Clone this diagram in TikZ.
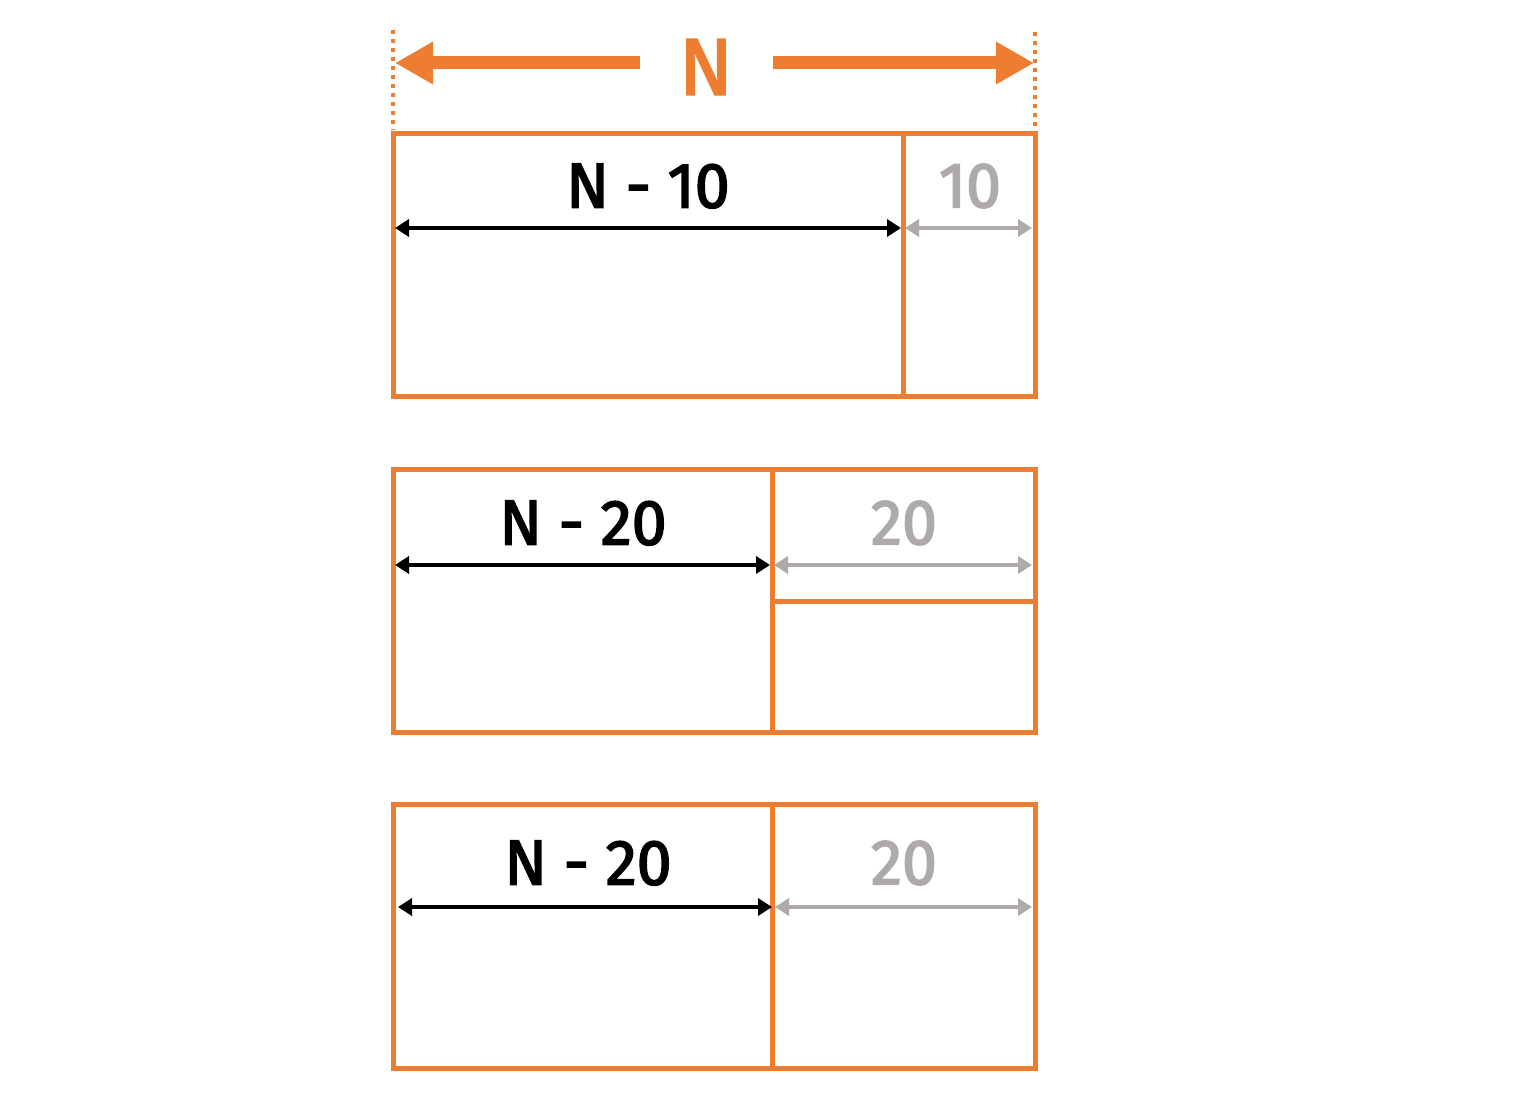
\documentclass[tikz,border=0pt]{standalone}
\usepackage{fontspec}
\setmainfont{Fira Sans}[FakeStretch=0.98, FakeBold=2.5]
\usetikzlibrary{arrows.meta}
\definecolor{org}{HTML}{ED7D31}
\definecolor{gry}{HTML}{AEAAAA}
\tikzset{
  frame/.style={draw=org, line width=5pt},
  dimk/.style={line width=4.5pt, {Triangle[length=14pt,width=17pt]}-{Triangle[length=14pt,width=17pt]}},
  dimg/.style={dimk, draw=gry, color=gry},
  lbl/.style={font=\fontsize{64}{70}\selectfont, inner sep=0pt, anchor=center},
  topdim/.style={draw=org, line width=13pt, -{Triangle[length=38pt,width=40pt]}},
  guide/.style={draw=org, line width=4pt, dash pattern=on 4pt off 5pt}
}
\begin{document}
\begin{tikzpicture}[x=1pt,y=-1pt]
\useasboundingbox (0,0) rectangle (1538,1107);
% top dimension
\draw[guide] (393,30) -- (393,130);
\draw[guide] (1035,32) -- (1035,130);
\node[lbl, text=org, font=\fontsize{80}{90}\selectfont] (N) at (706,67) {N};
\coordinate (tl) at (640,63);
\coordinate (tle) at (395,63);
\coordinate (tr) at (773,63);
\coordinate (tre) at (1034,63);
\draw[topdim] (tl) -- (tle);
\draw[topdim] (tr) -- (tre);
% frame 1
\draw[frame] (393,134) rectangle (1035,396);
\draw[frame] (903,134) -- (903,396);
\node[lbl] (l1) at (648,186) {N - 10};
\node[lbl, text=gry] (r1) at (970,186) {10};
\coordinate (a1) at (395,228); \coordinate (b1) at (901,228); \coordinate (c1) at (905,228); \coordinate (d1) at (1032,228);
\draw[dimk] (a1) -- (b1);
\draw[dimg] (c1) -- (d1);
% frame 2
\draw[frame] (393,469) rectangle (1035,732);
\draw[frame] (772,469) -- (772,732);
\draw[frame] (772,601) -- (1035,601);
\node[lbl] (l2) at (583,523) {N - 20};
\node[lbl, text=gry] (r2) at (904,523) {20};
\coordinate (a2) at (395,565); \coordinate (b2) at (770,565); \coordinate (c2) at (774,565); \coordinate (d2) at (1032,565);
\draw[dimk] (a2) -- (b2);
\draw[dimg] (c2) -- (d2);
% frame 3
\draw[frame] (393,804) rectangle (1035,1068);
\draw[frame] (772,804) -- (772,1068);
\node[lbl] (l3) at (588,863) {N - 20};
\node[lbl, text=gry] (r3) at (904,863) {20};
\coordinate (a3) at (398,907); \coordinate (b3) at (772,907); \coordinate (c3) at (775,907); \coordinate (d3) at (1032,907);
\draw[dimk] (a3) -- (b3);
\draw[dimg] (c3) -- (d3);
\end{tikzpicture}
\end{document}
